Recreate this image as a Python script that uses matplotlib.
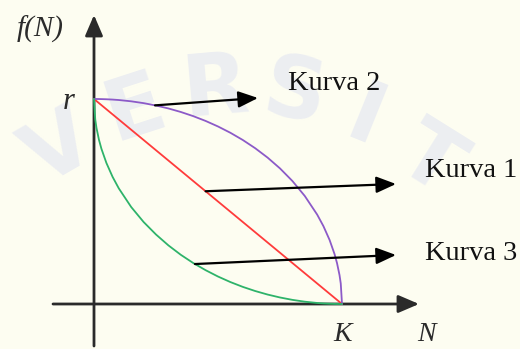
import matplotlib
matplotlib.use("Agg")
import matplotlib.pyplot as plt

# ---- data (normalised: K = 1, r = 1) ----
N_vals = [0, 0.005, 0.01, 0.02, 0.03, 0.05, 0.075, 0.1, 0.15, 0.2, 0.25, 0.3, 0.35, 0.4, 0.45,
          0.5, 0.55, 0.6, 0.65, 0.7, 0.75, 0.8, 0.85, 0.9, 0.925, 0.95, 0.97, 0.98, 0.99, 0.995, 1.0]
kurva1 = [1.0, 0.995, 0.99, 0.98, 0.97, 0.95, 0.925, 0.9, 0.85, 0.8, 0.75, 0.7, 0.65, 0.6, 0.55,
          0.5, 0.45, 0.4, 0.35, 0.3, 0.25, 0.2, 0.15, 0.1, 0.075, 0.05, 0.03, 0.02, 0.01, 0.005, 0.0]
kurva2 = [1.0, 1.0, 1.0, 0.9998, 0.9995, 0.9987, 0.9972, 0.995, 0.9887, 0.9798, 0.9682, 0.9539,
          0.9367, 0.9165, 0.893, 0.866, 0.8352, 0.8, 0.7599, 0.7141, 0.6614, 0.6, 0.5268, 0.4359,
          0.38, 0.3122, 0.2431, 0.199, 0.1411, 0.0999, 0.0]
kurva3 = [1.0, 0.9, 0.859, 0.801, 0.757, 0.688, 0.62, 0.564, 0.473, 0.4, 0.339, 0.286, 0.24, 0.2,
          0.165, 0.134, 0.107, 0.0835, 0.0633, 0.0461, 0.0318, 0.0202, 0.0113, 0.005, 0.0028,
          0.0013, 0.0005, 0.0002, 0.0001, 0.0, 0.0]
labels = ["Kurva 1", "Kurva 2", "Kurva 3"]
colors = ["#ff3b3b", "#8c5ac8", "#2eb36a"]

# ---- layout: pixel mapping ----
W, H = 520, 349
X0, Y0 = 94, 304        # origin in pixels
SX, SY = 248, 205       # pixels per unit

def px(x, y):
    return ((x - X0) / SX, (Y0 - y) / SY)

bg = "#fdfdf1"
fig = plt.figure(figsize=(W / 100, H / 100), dpi=100)
fig.patch.set_facecolor(bg)
ax = fig.add_axes([0, 0, 1, 1])
ax.set_facecolor(bg)
xmin, ymax = px(0, 0)
xmax, ymin = px(W, H)
ax.set_xlim(xmin, xmax)
ax.set_ylim(ymin, ymax)
ax.axis("off")

# faint watermark letters along an arc
wm = [("V", 60, 150, 30), ("E", 135, 110, 18), ("R", 215, 90, 5), ("S", 295, 95, -10),
      ("I", 365, 120, -22), ("T", 430, 160, -32)]
for ch, x, y, rot in wm:
    ax.text(*px(x, y), ch, fontsize=62, fontweight="bold", color="#eceef2",
            ha="center", va="center", rotation=rot, family="DejaVu Sans", zorder=0)

# axes with arrows
axcol = "#2a2a2a"
ax_kw = dict(arrowstyle="-|>,head_length=0.7,head_width=0.3", mutation_scale=18,
             color=axcol, lw=2.0, shrinkA=0, shrinkB=0)
ax.annotate("", xy=px(94, 15), xytext=px(94, 346), arrowprops=ax_kw, zorder=2)
ax.annotate("", xy=px(419, 304), xytext=px(53, 304), arrowprops=ax_kw, zorder=2)

# curves
for vals, c in zip([kurva1, kurva2, kurva3], colors):
    ax.plot(N_vals, vals, color=c, lw=1.3, zorder=3, solid_capstyle="round", solid_joinstyle="round")

# pointer arrows
arrow_kw = dict(arrowstyle="-|>,head_length=0.6,head_width=0.25", mutation_scale=20,
                color="black", lw=1.6, shrinkA=0, shrinkB=0)
ax.annotate("", xy=px(258, 98), xytext=(0.246, 0.969), arrowprops=arrow_kw, zorder=4)
ax.annotate("", xy=px(396, 184), xytext=(0.45, 0.55), arrowprops=arrow_kw, zorder=4)
ax.annotate("", xy=px(396, 255), xytext=(0.407, 0.195), arrowprops=arrow_kw, zorder=4)

serif = ["Liberation Serif", "DejaVu Serif"]
fs = 20.5
ax.text(*px(288, 90), labels[1], fontsize=fs, family=serif, ha="left", va="baseline", color="#111111")
ax.text(*px(425, 177), labels[0], fontsize=fs, family=serif, ha="left", va="baseline", color="#111111")
ax.text(*px(425, 260), labels[2], fontsize=fs, family=serif, ha="left", va="baseline", color="#111111")

# axis labels
lab = "#2b2b2b"
ax.text(*px(40, 29), "f(N)", fontsize=21, family=serif, style="italic", ha="center", va="center", color=lab)
ax.text(*px(69, 109), "r", fontsize=22, family=serif, style="italic", ha="center", va="baseline", color=lab)
ax.text(*px(343, 341), "K", fontsize=20, family=serif, style="italic", ha="center", va="baseline", color=lab)
ax.text(*px(426, 341), "N", fontsize=20, family=serif, style="italic", ha="center", va="baseline", color=lab)

fig.savefig("out.png", dpi=100, facecolor=fig.get_facecolor())
